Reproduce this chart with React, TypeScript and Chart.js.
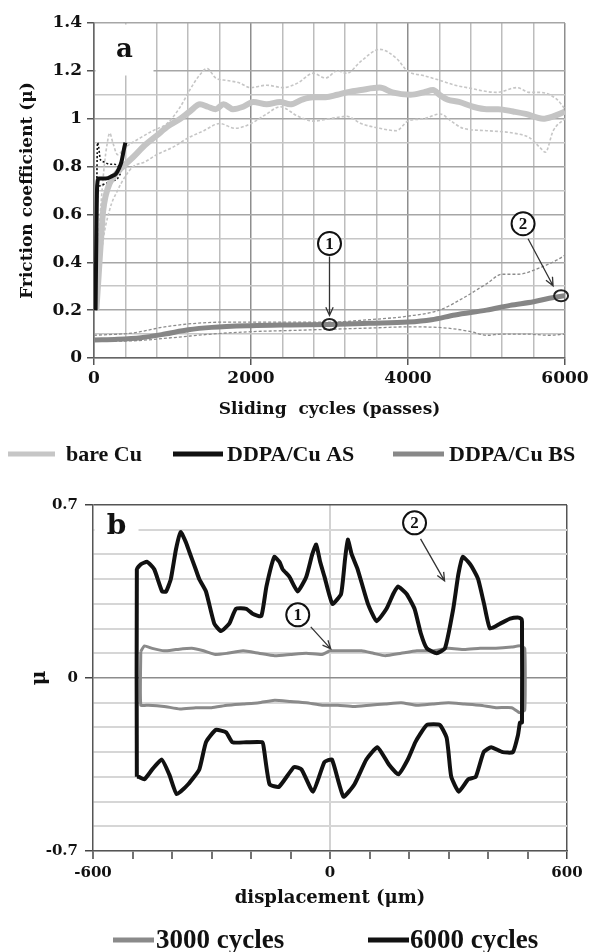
import React, { useEffect, useRef } from "react";
import { Chart, registerables } from "chart.js";

Chart.register(...registerables);

const AXIS_FONT = "'DejaVu Serif', serif";
const LEGEND_FONT = "'Liberation Serif', serif";

// ---------- Panel a : friction coefficient vs sliding cycles ----------
const BARE_X = [30, 60, 90, 115, 150, 200, 280, 370, 500, 650, 800, 950, 1100, 1220, 1350, 1450, 1550, 1650, 1770, 1900, 2030, 2200, 2370, 2500, 2650, 2790, 2950, 3100, 3220, 3400, 3640, 3800, 4030, 4200, 4320, 4400, 4500, 4650, 4830, 5000, 5150, 5340, 5500, 5720, 5850, 6000];
const BARE_Y = [0.2, 0.35, 0.5, 0.61, 0.68, 0.73, 0.77, 0.8, 0.84, 0.89, 0.93, 0.97, 1.0, 1.03, 1.06, 1.05, 1.04, 1.06, 1.04, 1.05, 1.07, 1.06, 1.07, 1.06, 1.08, 1.09, 1.09, 1.1, 1.11, 1.12, 1.13, 1.11, 1.1, 1.11, 1.12, 1.1, 1.08, 1.07, 1.05, 1.04, 1.04, 1.03, 1.02, 1.0, 1.01, 1.03];
const BARE_UP_X = [30, 80, 130, 170, 200, 240, 300, 400, 590, 750, 930, 1100, 1220, 1340, 1440, 1550, 1690, 1850, 1990, 2200, 2410, 2600, 2790, 2950, 3100, 3220, 3400, 3640, 3860, 3990, 4200, 4410, 4600, 4750, 5130, 5390, 5550, 5680, 5900, 6000];
const BARE_UP_Y = [0.3, 0.6, 0.8, 0.9, 0.94, 0.9, 0.85, 0.88, 0.92, 0.95, 0.98, 1.05, 1.12, 1.18, 1.21, 1.17, 1.16, 1.15, 1.13, 1.14, 1.13, 1.15, 1.19, 1.17, 1.2, 1.19, 1.24, 1.29, 1.25, 1.2, 1.18, 1.16, 1.14, 1.13, 1.11, 1.13, 1.11, 1.11, 1.08, 1.04];
const BARE_LO_X = [40, 100, 200, 300, 400, 500, 650, 800, 1000, 1200, 1400, 1600, 1800, 2000, 2200, 2370, 2600, 2790, 3000, 3220, 3400, 3640, 3850, 4000, 4200, 4410, 4550, 4700, 5000, 5340, 5550, 5680, 5750, 5850, 6000];
const BARE_LO_Y = [0.2, 0.45, 0.62, 0.7, 0.76, 0.8, 0.82, 0.85, 0.88, 0.92, 0.95, 0.98, 0.96, 0.98, 1.02, 1.05, 1.01, 0.99, 1.0, 1.01, 0.98, 0.96, 0.95, 0.99, 1.0, 1.02, 0.99, 0.96, 0.95, 0.94, 0.92, 0.88, 0.86, 0.95, 1.0];

const AS_X = [20, 30, 40, 60, 150, 230, 280, 315, 350, 380, 400];
const AS_Y = [0.2, 0.5, 0.72, 0.75, 0.75, 0.76, 0.77, 0.79, 0.82, 0.87, 0.9];
const AS_UP_X = [25, 35, 45, 60, 80, 120, 200, 260, 320];
const AS_UP_Y = [0.3, 0.7, 0.9, 0.88, 0.83, 0.82, 0.81, 0.81, 0.8];
const AS_LO_X = [30, 45, 80, 150, 230, 300, 350];
const AS_LO_Y = [0.2, 0.7, 0.72, 0.73, 0.74, 0.75, 0.78];

const BS_X = [0, 300, 600, 900, 1200, 1500, 2000, 2500, 3000, 3500, 4000, 4300, 4600, 5000, 5300, 5600, 5800, 6000];
const BS_Y = [0.075, 0.078, 0.085, 0.1, 0.118, 0.128, 0.135, 0.138, 0.14, 0.145, 0.15, 0.16, 0.18, 0.2, 0.22, 0.235, 0.25, 0.26];
const BS_UP_X = [0, 500, 900, 1300, 1700, 2500, 3000, 3500, 4000, 4400, 4700, 5000, 5200, 5400, 5700, 5900, 6000];
const BS_UP_Y = [0.095, 0.105, 0.13, 0.145, 0.15, 0.15, 0.15, 0.16, 0.175, 0.2, 0.25, 0.31, 0.35, 0.35, 0.38, 0.41, 0.43];
const BS_LO_X = [0, 500, 1000, 1500, 2000, 2500, 3000, 3500, 4000, 4500, 4800, 5000, 5200, 5500, 5800, 6000];
const BS_LO_Y = [0.07, 0.072, 0.085, 0.1, 0.11, 0.115, 0.12, 0.125, 0.13, 0.125, 0.11, 0.095, 0.1, 0.1, 0.095, 0.1];

const LEGEND_A = ["bare Cu", "DDPA/Cu AS", "DDPA/Cu BS"];
const MARKS_A_X = [3000, 5950];
const MARKS_A_Y = [0.14, 0.26];
const MARKS_LABELS = ["1", "2"];

// ---------- Panel b : friction loops ----------
const B6000_X = [-489, -489, -479, -463, -445, -425, -415, -403, -390, -378, -365, -356, -340, -331, -314, -293, -276, -255, -238, -212, -196, -174, -161, -141, -128, -120, -103, -82, -60, -45, -35, -25, -14, 6, 28, 38, 45, 55, 70, 96, 118, 143, 160, 172, 194, 214, 230, 245, 270, 291, 312, 325, 336, 350, 359, 375, 390, 405, 431, 456, 475, 484, 486, 486, 481, 476, 463, 437, 408, 389, 369, 350, 326, 307, 300, 295, 278, 245, 227, 216, 197, 173, 149, 120, 92, 62, 34, 5, -14, -43, -72, -91, -129, -153, -167, -171, -212, -247, -263, -289, -314, -331, -359, -388, -407, -426, -450, -470, -484, -489];
const B6000_Y = [-0.4, 0.44, 0.46, 0.47, 0.44, 0.35, 0.35, 0.4, 0.52, 0.59, 0.55, 0.51, 0.44, 0.4, 0.35, 0.22, 0.19, 0.22, 0.28, 0.28, 0.26, 0.25, 0.37, 0.49, 0.47, 0.44, 0.41, 0.35, 0.41, 0.5, 0.54, 0.47, 0.41, 0.3, 0.34, 0.48, 0.56, 0.5, 0.44, 0.3, 0.23, 0.28, 0.34, 0.37, 0.34, 0.28, 0.18, 0.12, 0.1, 0.12, 0.28, 0.42, 0.49, 0.47, 0.45, 0.4, 0.3, 0.2, 0.22, 0.24, 0.245, 0.24, 0.23, -0.18, -0.18, -0.23, -0.3, -0.3, -0.28, -0.3, -0.4, -0.41, -0.46, -0.4, -0.3, -0.24, -0.19, -0.19, -0.23, -0.26, -0.33, -0.39, -0.35, -0.28, -0.33, -0.43, -0.48, -0.33, -0.34, -0.46, -0.37, -0.36, -0.44, -0.43, -0.29, -0.26, -0.26, -0.26, -0.22, -0.21, -0.26, -0.37, -0.43, -0.47, -0.39, -0.33, -0.37, -0.41, -0.4, -0.4];
const B3000_X = [-479, -470, -450, -420, -390, -350, -320, -290, -260, -220, -180, -140, -100, -60, -20, 0, 40, 80, 110, 140, 180, 220, 260, 300, 340, 380, 420, 460, 480, 493, 493, 480, 460, 420, 380, 340, 300, 260, 220, 180, 140, 100, 60, 20, -20, -60, -100, -140, -180, -220, -260, -300, -340, -380, -420, -460, -479, -479];
const B3000_Y = [0.107, 0.13, 0.12, 0.11, 0.115, 0.12, 0.11, 0.095, 0.1, 0.11, 0.1, 0.09, 0.095, 0.1, 0.095, 0.11, 0.11, 0.11, 0.1, 0.09, 0.1, 0.11, 0.11, 0.12, 0.115, 0.12, 0.12, 0.125, 0.13, 0.12, -0.13, -0.14, -0.12, -0.12, -0.11, -0.105, -0.1, -0.105, -0.11, -0.1, -0.105, -0.11, -0.115, -0.11, -0.11, -0.1, -0.095, -0.09, -0.1, -0.105, -0.11, -0.12, -0.12, -0.125, -0.115, -0.11, -0.11, 0.107];

const LEGEND_B = ["3000 cycles", "6000 cycles"];
const MARKS_B_X = [7, 290];
const MARKS_B_Y = [0.11, 0.385];

const zip = (xs: number[], ys: number[]) => xs.map((x, i) => ({ x, y: ys[i] }));
const near = (a: number, b: number) => Math.abs(a - b) < 1e-6;
const bold = (size: number, family = AXIS_FONT) => ({ family, size, weight: "bold" as const });

function drawArrow(ctx: CanvasRenderingContext2D, x1: number, y1: number, x2: number, y2: number) {
  const ang = Math.atan2(y2 - y1, x2 - x1);
  const h = 9;
  ctx.save();
  ctx.strokeStyle = "#333";
  ctx.lineWidth = 1.3;
  ctx.beginPath();
  ctx.moveTo(x1, y1);
  ctx.lineTo(x2, y2);
  ctx.moveTo(x2 - h * Math.cos(ang - 0.42), y2 - h * Math.sin(ang - 0.42));
  ctx.lineTo(x2, y2);
  ctx.lineTo(x2 - h * Math.cos(ang + 0.42), y2 - h * Math.sin(ang + 0.42));
  ctx.stroke();
  ctx.restore();
}

function drawBadge(ctx: CanvasRenderingContext2D, x: number, y: number, label: string) {
  ctx.save();
  ctx.fillStyle = "#fff";
  ctx.strokeStyle = "#111";
  ctx.lineWidth = 2;
  ctx.beginPath();
  ctx.arc(x, y, 11.5, 0, Math.PI * 2);
  ctx.fill();
  ctx.stroke();
  ctx.fillStyle = "#111";
  ctx.font = `bold 17px ${LEGEND_FONT}`;
  ctx.textAlign = "center";
  ctx.textBaseline = "middle";
  ctx.fillText(label, x, y + 1);
  ctx.restore();
}

function drawLegendItem(ctx: CanvasRenderingContext2D, x1: number, x2: number, y: number, color: string, lw: number, text: string, tx: number, font: string) {
  ctx.save();
  ctx.strokeStyle = color;
  ctx.lineWidth = lw;
  ctx.beginPath();
  ctx.moveTo(x1, y);
  ctx.lineTo(x2, y);
  ctx.stroke();
  ctx.fillStyle = "#111";
  ctx.font = font;
  ctx.textAlign = "left";
  ctx.textBaseline = "middle";
  ctx.fillText(text, tx, y + 1);
  ctx.restore();
}

function panelLabel(ctx: CanvasRenderingContext2D, area: any, w: number, h: number, text: string, size: number) {
  ctx.save();
  ctx.fillStyle = "#fff";
  ctx.fillRect(area.left + 1.5, area.top + 1.5, w, h);
  ctx.fillStyle = "#111";
  ctx.font = `bold ${size}px ${AXIS_FONT}`;
  ctx.textAlign = "center";
  ctx.textBaseline = "middle";
  ctx.fillText(text, area.left + 1.5 + w / 2, area.top + 1.5 + h / 2);
  ctx.restore();
}

const panelAPlugin = {
  id: "panelA",
  beforeDatasetsDraw(chart: any) {
    panelLabel(chart.ctx, chart.chartArea, 58, 51, "a", 26);
  },
  afterDraw(chart: any) {
    const ctx = chart.ctx;
    const xs = chart.scales.x;
    const ys = chart.scales.y;
    const offs = [
      { lx: 0, ly: -81, ax1: 0, ay1: -68, ax2: 0, ay2: -9 },
      { lx: -38, ly: -72, ax1: -33, ay1: -57, ax2: -8, ay2: -10 },
    ];
    MARKS_A_X.forEach((v, i) => {
      const px = xs.getPixelForValue(v);
      const py = ys.getPixelForValue(MARKS_A_Y[i]);
      ctx.save();
      ctx.strokeStyle = "#222";
      ctx.lineWidth = 2;
      ctx.beginPath();
      ctx.ellipse(px, py, 7, 5.5, 0, 0, Math.PI * 2);
      ctx.stroke();
      ctx.restore();
      const o = offs[i];
      drawArrow(ctx, px + o.ax1, py + o.ay1, px + o.ax2, py + o.ay2);
      drawBadge(ctx, px + o.lx, py + o.ly, MARKS_LABELS[i]);
    });
    const f = `bold 22px ${LEGEND_FONT}`;
    const y = 454;
    drawLegendItem(ctx, 8, 55, y, "#c6c6c6", 5, LEGEND_A[0], 66, f);
    drawLegendItem(ctx, 173, 223, y, "#111", 5, LEGEND_A[1], 227, f);
    drawLegendItem(ctx, 393, 444, y, "#888", 5, LEGEND_A[2], 449, f);
  },
};

const panelBPlugin = {
  id: "panelB",
  beforeDatasetsDraw(chart: any) {
    panelLabel(chart.ctx, chart.chartArea, 44, 40, "b", 28);
  },
  afterDraw(chart: any) {
    const ctx = chart.ctx;
    const xs = chart.scales.x;
    const ys = chart.scales.y;
    const offs = [
      { lx: -35, ly: -36, ax1: -22, ay1: -24, ax2: -2, ay2: -2 },
      { lx: -30, ly: -60, ax1: -24, ay1: -44, ax2: 0, ay2: -2 },
    ];
    MARKS_B_X.forEach((v, i) => {
      const px = xs.getPixelForValue(v);
      const py = ys.getPixelForValue(MARKS_B_Y[i]);
      const o = offs[i];
      drawArrow(ctx, px + o.ax1, py + o.ay1, px + o.ax2, py + o.ay2);
      drawBadge(ctx, px + o.lx, py + o.ly, MARKS_LABELS[i]);
    });
    const f = `bold 27px ${LEGEND_FONT}`;
    const y = 460;
    drawLegendItem(ctx, 113, 154, y, "#8a8a8a", 5, LEGEND_B[0], 156, f);
    drawLegendItem(ctx, 368, 409, y, "#111", 5, LEGEND_B[1], 410, f);
  },
};

export default function App() {
  const refA = useRef<HTMLCanvasElement>(null);
  const refB = useRef<HTMLCanvasElement>(null);

  useEffect(() => {
    const line = (label: string, xs: number[], ys: number[], color: string, width: number, dash: number[] = []) => ({
      label,
      data: zip(xs, ys),
      borderColor: color,
      backgroundColor: color,
      borderWidth: width,
      borderDash: dash,
      pointRadius: 0,
      fill: false,
    });

    const chartA = new Chart(refA.current!, {
      type: "line",
      data: {
        datasets: [
          line("DDPA/Cu AS", AS_X, AS_Y, "#111", 4),
          line("DDPA/Cu BS", BS_X, BS_Y, "#868686", 5),
          line("bare Cu", BARE_X, BARE_Y, "#c4c4c4", 6),
          line("AS upper", AS_UP_X, AS_UP_Y, "#111", 1.6, [2, 2]),
          line("AS lower", AS_LO_X, AS_LO_Y, "#111", 1.6, [2, 2]),
          line("BS upper", BS_UP_X, BS_UP_Y, "#8c8c8c", 1.3, [3, 2]),
          line("BS lower", BS_LO_X, BS_LO_Y, "#8c8c8c", 1.3, [3, 2]),
          line("bare upper", BARE_UP_X, BARE_UP_Y, "#c6c6c6", 1.6, [3, 2]),
          line("bare lower", BARE_LO_X, BARE_LO_Y, "#c6c6c6", 1.6, [3, 2]),
        ],
      },
      options: {
        animation: false,
        responsive: false,
        devicePixelRatio: 1,
        elements: { line: { tension: 0.3, cubicInterpolationMode: "monotone" }, point: { radius: 0 } },
        layout: { padding: { left: 0, right: 27, top: 23, bottom: 52 } },
        plugins: { legend: { display: false }, tooltip: { enabled: false } },
        scales: {
          x: {
            type: "linear",
            min: 0,
            max: 6000,
            afterFit: (s: any) => { s.height = 70; },
            ticks: {
              stepSize: 400,
              autoSkip: false,
              maxRotation: 0,
              padding: 3,
              color: "#111",
              font: bold(17),
              callback: (v: any) => (v % 2000 === 0 ? String(v) : ""),
            },
            grid: {
              color: (c: any) => (c.tick && c.tick.value % 2000 === 0 ? "#8e8e8e" : "#bdbdbd"),
              lineWidth: 1.5,
              tickLength: 7,
              tickColor: (c: any) => (c.tick && c.tick.value % 2000 === 0 ? "#555" : "rgba(0,0,0,0)"),
            },
            border: { color: "#666", width: 1.5 },
            title: { display: true, text: "Sliding  cycles (passes)", color: "#111", font: bold(17), padding: { top: 0, bottom: 8 } },
          },
          y: {
            min: 0,
            max: 1.4,
            afterFit: (s: any) => { s.width = 94; },
            ticks: {
              stepSize: 0.1,
              autoSkip: false,
              padding: 5,
              color: "#111",
              font: bold(17),
              callback: (v: any) => (near(v * 5, Math.round(v * 5)) ? String(Number(v.toFixed(1))) : ""),
            },
            grid: {
              color: (c: any) => {
                const v = c.tick ? c.tick.value : 0;
                if (near(v, 1.3)) return "rgba(0,0,0,0)";
                return near(v * 5, Math.round(v * 5)) ? "#a6a6a6" : "#c6c6c6";
              },
              lineWidth: 1.5,
              tickLength: 7,
              tickColor: (c: any) => (c.tick && near(c.tick.value * 5, Math.round(c.tick.value * 5)) ? "#555" : "rgba(0,0,0,0)"),
            },
            border: { color: "#666", width: 1.5 },
            title: { display: true, text: "Friction coefficient (μ)", color: "#111", font: bold(17), padding: { top: 17, bottom: 0 } },
          },
        },
      },
      plugins: [panelAPlugin],
    } as any);

    const isMajorB = (v: number) => near(v, 0) || near(v, 0.7) || near(v, -0.7);

    const chartB = new Chart(refB.current!, {
      type: "line",
      data: {
        datasets: [
          { ...line("6000 cycles", B6000_X, B6000_Y, "#111", 4), tension: 0.15 },
          { ...line("3000 cycles", B3000_X, B3000_Y, "#8a8a8a", 3), tension: 0.15 },
        ],
      },
      options: {
        animation: false,
        responsive: false,
        devicePixelRatio: 1,
        elements: { point: { radius: 0 } },
        layout: { padding: { left: 0, right: 25, top: 25, bottom: 41 } },
        plugins: { legend: { display: false }, tooltip: { enabled: false } },
        scales: {
          x: {
            type: "linear",
            min: -600,
            max: 600,
            afterFit: (s: any) => { s.height = 60; },
            ticks: {
              stepSize: 100,
              autoSkip: false,
              maxRotation: 0,
              padding: 5,
              color: "#111",
              font: bold(15),
              callback: (v: any) => (v === -600 || v === 0 || v === 600 ? String(v) : ""),
            },
            grid: {
              color: (c: any) => {
                const v = c.tick ? c.tick.value : 1;
                if (v === 0) return "#d2d2d2";
                if (v === 600) return "#555";
                return "rgba(0,0,0,0)";
              },
              lineWidth: (c: any) => (c.tick && c.tick.value === 600 ? 1.5 : 2),
              tickLength: 8,
              tickColor: "#444",
              tickWidth: 1.5,
            },
            border: { color: "#555", width: 1.5 },
            title: { display: true, text: "displacement (μm)", color: "#111", font: bold(18), padding: { top: 0, bottom: 2 } },
          },
          y: {
            min: -0.7,
            max: 0.7,
            afterFit: (s: any) => { s.width = 93; },
            ticks: {
              stepSize: 0.1,
              autoSkip: false,
              padding: 7,
              color: "#111",
              font: bold(15),
              callback: (v: any) => (near(v, 0) ? "0" : near(v, 0.7) ? "0.7" : near(v, -0.7) ? "-0.7" : ""),
            },
            grid: {
              color: (c: any) => {
                const v = c.tick ? c.tick.value : 1;
                if (near(v, 0)) return "#8c8c8c";
                if (near(v, 0.7)) return "#555";
                return "#d6d6d6";
              },
              lineWidth: (c: any) => (c.tick && isMajorB(c.tick.value) ? 1.5 : 2),
              tickLength: 8,
              tickColor: (c: any) => (c.tick && isMajorB(c.tick.value) ? "#444" : "rgba(0,0,0,0)"),
              tickWidth: 1.5,
            },
            border: { color: "#555", width: 1.5 },
            title: { display: true, text: "μ", color: "#111", font: bold(20), padding: { top: 28, bottom: 0 } },
          },
        },
      },
      plugins: [panelBPlugin],
    } as any);

    return () => {
      chartA.destroy();
      chartB.destroy();
    };
  }, []);

  return (
    <div style={{ position: "absolute", left: 0, top: 0, width: 592, height: 952, background: "#fff" }}>
      <canvas ref={refA} width={592} height={480} style={{ position: "absolute", left: 0, top: 0, width: 592, height: 480 }} />
      <canvas ref={refB} width={592} height={472} style={{ position: "absolute", left: 0, top: 480, width: 592, height: 472 }} />
    </div>
  );
}
